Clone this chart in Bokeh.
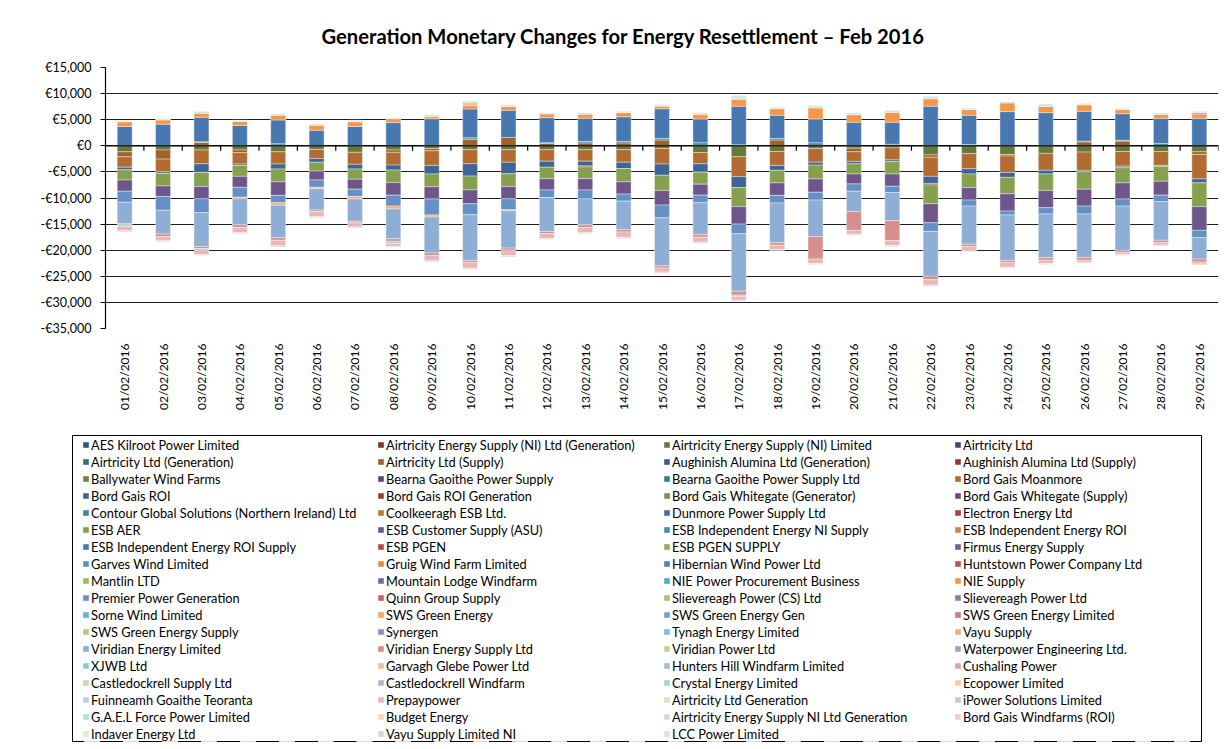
import numpy as np
from bokeh.plotting import figure
from bokeh.models import (ColumnDataSource, FactorRange, Range1d, Legend, LegendItem,
                          FixedTicker, Span)
from bokeh.transform import dodge
from bokeh.embed import file_html
from bokeh.resources import INLINE

FONT = "Lato"
TITLE = "Generation Monetary Changes for Energy Resettlement \u2013 Feb 2016"

dates = ["%02d/02/2016" % d for d in range(1, 30)]

series_names = [
    "AES Kilroot Power Limited", "Airtricity Energy Supply (NI) Ltd (Generation)", "Airtricity Energy Supply (NI) Limited", "Airtricity Ltd",
    "Airtricity Ltd (Generation)", "Airtricity Ltd (Supply)", "Aughinish Alumina Ltd (Generation)", "Aughinish Alumina Ltd (Supply)",
    "Ballywater Wind Farms", "Bearna Gaoithe Power Supply", "Bearna Gaoithe Power Supply Ltd", "Bord Gais Moanmore",
    "Bord Gais ROI", "Bord Gais ROI Generation", "Bord Gais Whitegate (Generator)", "Bord Gais Whitegate (Supply)",
    "Contour Global Solutions (Northern Ireland) Ltd", "Coolkeeragh ESB Ltd.", "Dunmore Power Supply Ltd", "Electron Energy Ltd",
    "ESB AER", "ESB Customer Supply (ASU)", "ESB Independent Energy NI Supply", "ESB Independent Energy ROI",
    "ESB Independent Energy ROI Supply", "ESB PGEN", "ESB PGEN SUPPLY", "Firmus Energy Supply",
    "Garves Wind Limited", "Gruig Wind Farm Limited", "Hibernian Wind Power Ltd", "Huntstown Power Company Ltd",
    "Mantlin LTD", "Mountain Lodge Windfarm", "NIE Power Procurement Business", "NIE Supply",
    "Premier Power Generation", "Quinn Group Supply", "Slievereagh Power (CS) Ltd", "Slievereagh Power Ltd",
    "Sorne Wind Limited", "SWS Green Energy", "SWS Green Energy Gen", "SWS Green Energy Limited",
    "SWS Green Energy Supply", "Synergen", "Tynagh Energy Limited", "Vayu Supply",
    "Viridian Energy Limited", "Viridian Energy Supply Ltd", "Viridian Power Ltd", "Waterpower Engineering Ltd.",
    "XJWB Ltd", "Garvagh Glebe Power Ltd", "Hunters Hill Windfarm Limited", "Cushaling Power",
    "Castledockrell Supply Ltd", "Castledockrell Windfarm", "Crystal Energy Limited", "Ecopower Limited",
    "Fuinneamh Goaithe Teoranta", "Prepaypower", "Airtricity Ltd Generation", "iPower Solutions Limited",
    "G.A.E.L Force Power Limited", "Budget Energy", "Airtricity Energy Supply NI Ltd Generation", "Bord Gais Windfarms (ROI)",
    "Indaver Energy Ltd", "Vayu Supply Limited NI", "LCC Power Limited",
]

# ---- values (EUR), one list per visible series, 29 days ----
airtricity_es_ni_ltd = [-1150, -800, -800, -800, -1150, -700, -1250, -800, -500, -750, -750, -750, -750, -750, -500,
                        -1300, -2100, -1100, -500, -450, -400, -1750, -1500, -1650, -1450, -1200, -1100, -1100, -1150]
airtricity_ltd_supply = [-950, -1750, 630, -500, 0, 0, 0, -450, -450, 1250, 1600, 450, 550, 550, 1100,
                         0, 0, 1100, 0, -700, 300, -450, 0, -300, 0, 750, 900, 0, -500]
bg_moanmore = [-2000, -2450, -2650, -2200, -2350, -1750, -2300, -2450, -2800, -2700, -2400, -2200, -2200, -2400, -3000,
               -2150, -3800, -2650, -2650, -1850, -2300, -3650, -2900, -3150, -3250, -3500, -2800, -2650, -4700]
bg_roi = [-500, -300, -1650, -250, -950, -700, -900, -950, -1650, -2350, -2200, -1150, -900, -1200, -2150,
          -1600, -2100, -950, -550, -450, -300, -1350, -1000, -950, -700, -250, -300, -200, -750]
electron_energy = [0, 0, 0, 0, 0, 0, 0, 0, 0, 0, 0, 0, -200, 0, 0,
                   0, 0, 0, 0, 0, 0, -300, 0, 0, 0, 0, 0, 0, 0]
esb_aer = [-1950, -2400, -2700, -2100, -2450, -1700, -1950, -2400, -2450, -2650, -2450, -2200, -2250, -2550, -2900,
           -2300, -3650, -2400, -2650, -1950, -2400, -3600, -2600, -3150, -3150, -3350, -2900, -2850, -4550]
esb_customer_supply = [-2150, -2000, -2350, -2100, -2600, -1700, -1900, -2400, -2350, -2650, -2350, -2150, -2150, -2350, -2800,
                       -2100, -3350, -2400, -2550, -1900, -2350, -3650, -2400, -3300, -3300, -3250, -3100, -2650, -4550]
esb_ie_ni_supply = [0, 0, 150, 0, 400, 0, 0, 0, 0, 300, 0, 150, 300, 300, 300,
                    600, 200, 300, 600, 0, 0, 0, 250, 0, 0, 150, 150, 450, 0]
esb_ie_roi_supply = [3700, 4150, 4700, 3900, 4550, 3000, 3700, 4450, 5200, 5500, 5200, 4800, 4450, 4700, 5700,
                     4550, 7400, 4450, 4550, 4500, 4200, 7600, 5600, 6550, 6350, 5700, 5100, 4850, 5300]
nie_supply = [900, 800, 750, 750, 900, 950, 900, 750, 400, 650, 750, 700, 750, 800, 500,
              800, 1300, 1250, 2100, 1450, 1900, 1400, 1100, 1650, 1200, 1250, 800, 700, 800]
premier_power = [-2100, -2650, -2650, -1900, -1400, -1400, -1400, -2100, -3050, -2100, -2100, -1450, -1700, -1350, -2450,
                 -1450, -1850, -1450, -1500, -1400, -1200, -1650, -1150, -750, -1200, -1500, -1350, -1250, -1400]
vayu_supply = [0, 0, 0, -300, -500, -300, -500, -550, -400, 0, -200, 0, 0, 0, 0,
               0, 0, 0, 0, 0, 0, 0, 0, 0, 0, 0, 0, 0, 0]
viridian_energy = [-4100, -4550, -6500, -5000, -6200, -4050, -4250, -5700, -6900, -8800, -7150, -6500, -5000, -5450, -9200,
                   -6100, -11000, -7600, -7000, -3900, -5400, -8600, -7300, -8750, -8350, -8350, -8550, -7400, -4100]
viridian_energy_supply = [-200, -500, -380, -500, -500, -300, -300, -500, -500, -400, -400, -400, -500, -450, -400,
                          -500, -750, -500, -4300, -3600, -3800, -650, -450, -400, -500, -500, -400, -450, -550]
waterpower = [0, 0, 0, 0, 0, 0, 0, 0, 0, 0, 0, 0, 0, 0, 0,
              0, 0, 0, 0, 0, 0, 0, 0, 0, 0, 0, 0, 0, 300]
garvagh_glebe = [0, 0, 0, 0, 0, 0, 0, 0, 0, 650, 0, 0, 0, 0, 0,
                 300, 0, 0, 0, 0, 0, 0, 0, 0, 0, 0, 0, 0, 0]
crystal_energy = [-300, 0, -350, 0, 0, 0, 0, -450, 0, 0, 0, 0, 0, 0, 0,
                  0, -250, 0, 0, 0, 0, 0, 0, 0, 0, 0, 0, 0, 0]
prepaypower = [-850, -800, -800, -1000, -1050, -1000, -800, -500, -950, -1050, -1050, -950, -1000, -1050, -800,
               -950, -700, -800, -850, -750, -950, -1000, -800, -850, -650, -400, -300, -500, -400]
bg_windfarms = [-250, -200, -200, -200, -250, -200, -200, -200, -250, -250, -250, -200, -200, -250, -200,
                -200, -250, -200, -200, -200, -250, -250, -200, -200, -200, -200, -200, -200, -200]
lcc_power = [250, 300, 380, 250, 300, 250, 300, 200, 400, 250, 300, 250, 300, 250, 300,
             150, 800, 300, 450, 400, 400, 500, 300, 250, 450, 300, 250, 350, 200]

series_values = {
    "Airtricity Energy Supply (NI) Limited": airtricity_es_ni_ltd,
    "Airtricity Ltd (Supply)": airtricity_ltd_supply,
    "Bord Gais Moanmore": bg_moanmore,
    "Bord Gais ROI": bg_roi,
    "Electron Energy Ltd": electron_energy,
    "ESB AER": esb_aer,
    "ESB Customer Supply (ASU)": esb_customer_supply,
    "ESB Independent Energy NI Supply": esb_ie_ni_supply,
    "ESB Independent Energy ROI Supply": esb_ie_roi_supply,
    "NIE Supply": nie_supply,
    "Premier Power Generation": premier_power,
    "Vayu Supply": vayu_supply,
    "Viridian Energy Limited": viridian_energy,
    "Viridian Energy Supply Ltd": viridian_energy_supply,
    "Waterpower Engineering Ltd.": waterpower,
    "Garvagh Glebe Power Ltd": garvagh_glebe,
    "Crystal Energy Limited": crystal_energy,
    "Prepaypower": prepaypower,
    "Bord Gais Windfarms (ROI)": bg_windfarms,
    "LCC Power Limited": lcc_power,
}

y_ticks = [15000, 10000, 5000, 0, -5000, -10000, -15000, -20000, -25000, -30000, -35000]
y_tick_labels = ["\u20ac15,000", "\u20ac10,000", "\u20ac5,000", "\u20ac0", "-\u20ac5,000", "-\u20ac10,000",
                 "-\u20ac15,000", "-\u20ac20,000", "-\u20ac25,000", "-\u20ac30,000", "-\u20ac35,000"]

# ---- Excel-like palette: 6 accents, darker -> lighter per cycle ----
ACCENTS = [(79, 129, 189), (192, 80, 77), (155, 187, 89), (128, 100, 162), (75, 172, 198), (247, 150, 70)]


def series_color(i):
    r, g, b = ACCENTS[i % 6]
    k = i // 6
    if k <= 5:
        f = 1 - 0.07 * (5 - k)
        c = (r * f, g * f, b * f)
    else:
        t = 0.12 * (k - 5)
        c = (r + (255 - r) * t, g + (255 - g) * t, b + (255 - b) * t)
    return "#%02x%02x%02x" % tuple(int(round(v)) for v in c)


# ================= main chart =================
p = figure(width=1232, height=434, x_range=FactorRange(factors=dates), y_range=Range1d(-35000, 15000),
           output_backend="svg", toolbar_location=None, title=TITLE,
           min_border_left=105, min_border_right=14, min_border_top=67, min_border_bottom=106)
p.outline_line_color = None
p.background_fill_color = "white"
p.border_fill_color = "white"

p.title.align = "left"
p.title.offset = 216
p.title.standoff = 40
p.title.text_font = FONT
p.title.text_font_size = "20.2px"
p.title.text_font_style = "bold"
p.title.text_color = "black"

p.xgrid.grid_line_color = None
p.ygrid.ticker = FixedTicker(ticks=y_ticks)
p.ygrid.grid_line_color = "#1e1e1e"
p.ygrid.grid_line_width = 1.2

p.yaxis.ticker = FixedTicker(ticks=y_ticks)
p.yaxis.major_label_overrides = {t: l for t, l in zip(y_ticks, y_tick_labels)}
p.yaxis.minor_tick_line_color = None
p.yaxis.major_tick_in = 0
p.yaxis.major_tick_out = 5
p.yaxis.axis_line_color = "black"
p.yaxis.axis_line_width = 1.2
p.yaxis.major_tick_line_color = "black"
p.yaxis.major_label_text_font = FONT
p.yaxis.major_label_text_font_size = "12.5px"
p.yaxis.major_label_text_color = "black"
p.yaxis.major_label_standoff = 9

p.xaxis.major_label_orientation = np.pi / 2
p.xaxis.axis_line_color = None
p.xaxis.major_tick_line_color = None
p.xaxis.minor_tick_line_color = None
p.xaxis.major_label_standoff = 9
p.xaxis.major_label_text_font = FONT
p.xaxis.major_label_text_font_size = "12px"
p.xaxis.major_label_text_color = "black"

# ================= legend panel (shares the same data sources) =================
p2 = figure(width=1232, height=310, x_range=p.x_range, y_range=Range1d(1e7, 2e7),
            output_backend="svg", toolbar_location=None, x_axis_location=None, y_axis_location=None,
            min_border_left=72, min_border_right=31, min_border_top=1, min_border_bottom=3)
p2.grid.visible = False
p2.outline_line_color = "black"
p2.outline_line_width = 1
p2.background_fill_color = "white"
p2.border_fill_color = "white"

# ---- stacked bars: positives stack up, negatives stack down, in series order ----
n = len(dates)
pos_base = np.zeros(n)
neg_base = np.zeros(n)
legend_renderers = []
for i, name in enumerate(series_names):
    vals = np.array(series_values.get(name, [0] * n), dtype=float)
    bottom = np.where(vals >= 0, pos_base, neg_base)
    top = bottom + vals
    pos_base = np.where(vals > 0, pos_base + vals, pos_base)
    neg_base = np.where(vals < 0, neg_base + vals, neg_base)
    src = ColumnDataSource(dict(x=dates, bottom=bottom, top=top,
                                la=np.where(vals != 0, 0.55, 0.0)))
    col = series_color(i)
    p.vbar(x="x", bottom="bottom", top="top", width=0.39, source=src,
           fill_color=col, line_color="white", line_alpha="la", line_width=0.7)
    legend_renderers.append(p2.vbar(x="x", bottom="bottom", top="top", width=0.39, source=src,
                                    fill_color=col, line_color=None))

# zero line (category axis crossing) with its tick marks between categories
p.add_layout(Span(location=0, dimension="width", line_color="black", line_width=1.2))
tick_len = 5 * 50000 / 261.0
tsrc = ColumnDataSource(dict(x=dates))
p.segment(x0=dodge("x", 0.5, range=p.x_range), y0=0, x1=dodge("x", 0.5, range=p.x_range), y1=-tick_len,
          source=tsrc, line_color="black", line_width=1.2)

# ---- legend: 4 columns, row-major like Excel ----
NCOLS, NROWS, ROW_H = 4, 18, 17
col_offsets = [10, 305, 591, 882]
for c in range(NCOLS):
    items = [LegendItem(label=series_names[r * NCOLS + c], renderers=[legend_renderers[r * NCOLS + c]])
             for r in range(NROWS) if r * NCOLS + c < len(series_names)]
    lg = Legend(items=items, location=(col_offsets[c], (NROWS - len(items)) * ROW_H - 1),
                orientation="vertical", border_line_color=None, background_fill_alpha=0.0,
                label_text_font=FONT, label_text_font_size="12.8px", label_text_color="black",
                glyph_width=7, glyph_height=7, label_standoff=2, label_height=ROW_H,
                spacing=0, padding=0, margin=0)
    p2.add_layout(lg)

open("out.html", "w").write(file_html([p, p2], INLINE))
